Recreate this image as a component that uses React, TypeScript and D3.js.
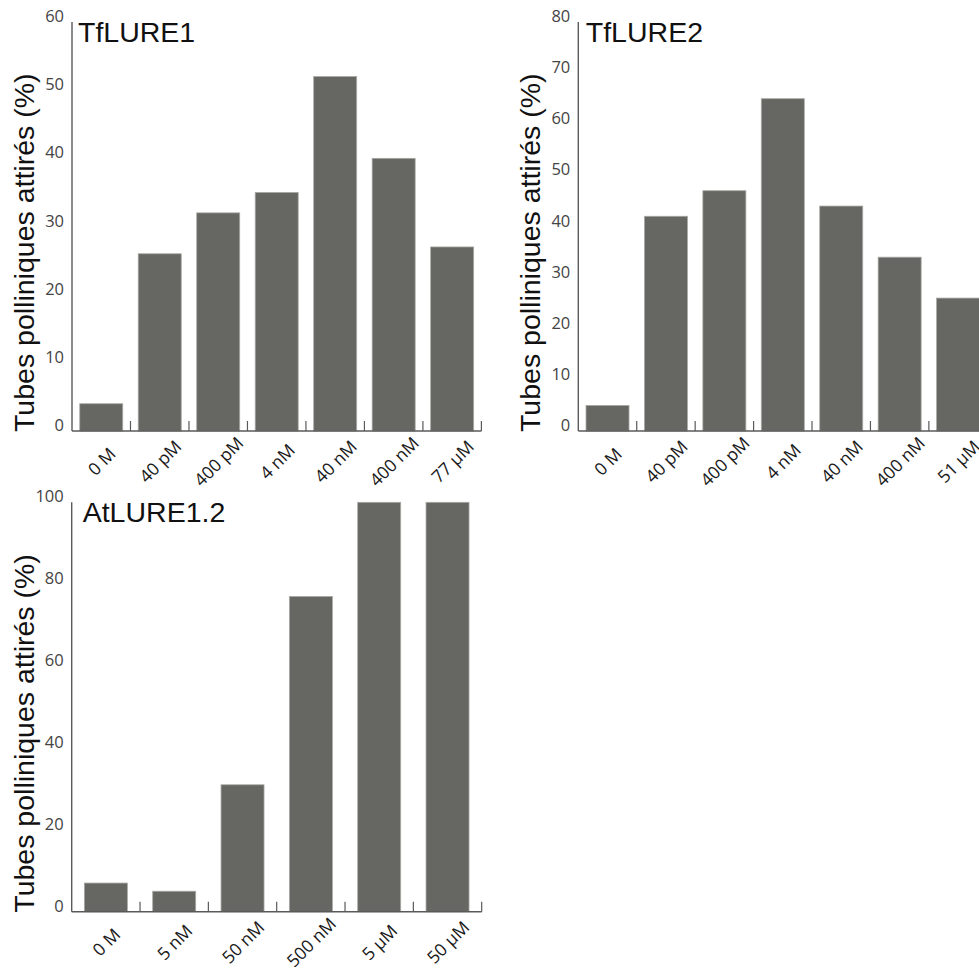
import React from "react";
import * as d3 from "d3";

const categories1 = ["0 M", "40 pM", "400 pM", "4 nM", "40 nM", "400 nM", "77 µM"];
const values1 = [4, 26, 32, 35, 52, 40, 27];
const ticks1 = [0, 10, 20, 30, 40, 50, 60];

const categories2 = ["0 M", "40 pM", "400 pM", "4 nM", "40 nM", "400 nM", "51 µM"];
const values2 = [5, 42, 47, 65, 44, 34, 26];
const ticks2 = [0, 10, 20, 30, 40, 50, 60, 70, 80];

const categories3 = ["0 M", "5 nM", "50 nM", "500 nM", "5 µM", "50 µM"];
const values3 = [7, 5, 31, 77, 100, 100];
const ticks3 = [0, 20, 40, 60, 80, 100];

const titles = ["TfLURE1", "TfLURE2", "AtLURE1.2"];
const yLabel = "Tubes polliniques attirés (%)";

const panels = [
  { title: titles[0], cats: categories1, vals: values1, ticks: ticks1, x0: 72, width: 409.4, top: 22, bottom: 431, titleDx: 6 },
  { title: titles[1], cats: categories2, vals: values2, ticks: ticks2, x0: 578.3, width: 409, top: 22, bottom: 431, titleDx: 7.5 },
  { title: titles[2], cats: categories3, vals: values3, ticks: ticks3, x0: 71.7, width: 410, top: 502.3, bottom: 911.7, titleDx: 11 },
];

const BAR_W = 43;

function Panel({ p }: { p: (typeof panels)[number] }) {
  const x = d3.scaleBand<string>().domain(p.cats).range([p.x0, p.x0 + p.width]).padding(0);
  const maxT = p.ticks[p.ticks.length - 1];
  const y = d3.scaleLinear().domain([0, maxT]).range([p.bottom, p.top]);
  const bw = x.bandwidth();
  return (
    <g>
      {p.cats.map((c, i) => {
        const cx = (x(c) as number) + bw / 2;
        return (
          <rect
            key={c}
            x={cx - BAR_W / 2}
            y={y(p.vals[i])}
            width={BAR_W}
            height={y(0) - y(p.vals[i])}
            fill="#666762"
            stroke="#a8a8a6"
            strokeWidth={0.8}
          />
        );
      })}
      <line x1={p.x0} x2={p.x0} y1={y(maxT)} y2={y(0)} stroke="#5a5a5a" strokeWidth={1.4} />
      <line x1={p.x0} x2={p.x0 + p.width} y1={y(0)} y2={y(0)} stroke="#5a5a5a" strokeWidth={1.4} />
      {p.cats.map((c) => {
        const tx = (x(c) as number) + bw;
        return <line key={"t" + c} x1={tx} x2={tx} y1={y(0)} y2={y(0) - 10} stroke="#5a5a5a" strokeWidth={1.2} />;
      })}
      {p.ticks.map((t) => (
        <text
          key={"y" + t}
          x={p.x0 - 8}
          y={y(t)}
          textAnchor="end"
          fontFamily="'Open Sans', sans-serif"
          fontSize={16.5}
          fill="#444"
        >
          {t}
        </text>
      ))}
      {p.cats.map((c) => {
        const cx = (x(c) as number) + bw / 2;
        const cy = y(0) + 30;
        return (
          <text
            key={"l" + c}
            x={cx}
            y={cy}
            textAnchor="middle"
            dominantBaseline="central"
            transform={`rotate(-45 ${cx} ${cy})`}
            fontFamily="'Open Sans', sans-serif"
            fontSize={17.5}
            fill="#1a1a1a"
          >
            {c}
          </text>
        );
      })}
      <text
        x={p.x0 + p.titleDx}
        y={p.top + 20}
        fontFamily="'Liberation Sans', Arial, sans-serif"
        fontSize={28.5}
        fill="#111"
      >
        {p.title}
      </text>
      <text
        transform={`translate(${p.x0 - 38}, ${p.bottom + 1}) rotate(-90)`}
        textAnchor="start"
        fontFamily="'Liberation Sans', Arial, sans-serif"
        fontSize={28.5}
        fill="#111"
      >
        {yLabel}
      </text>
    </g>
  );
}

export default function App() {
  return (
    <svg
      width={979}
      height={968}
      style={{ position: "absolute", left: 0, top: 0, background: "#fff" }}
    >
      <rect width={979} height={968} fill="#fff" />
      {panels.map((p) => (
        <Panel key={p.title} p={p} />
      ))}
    </svg>
  );
}
